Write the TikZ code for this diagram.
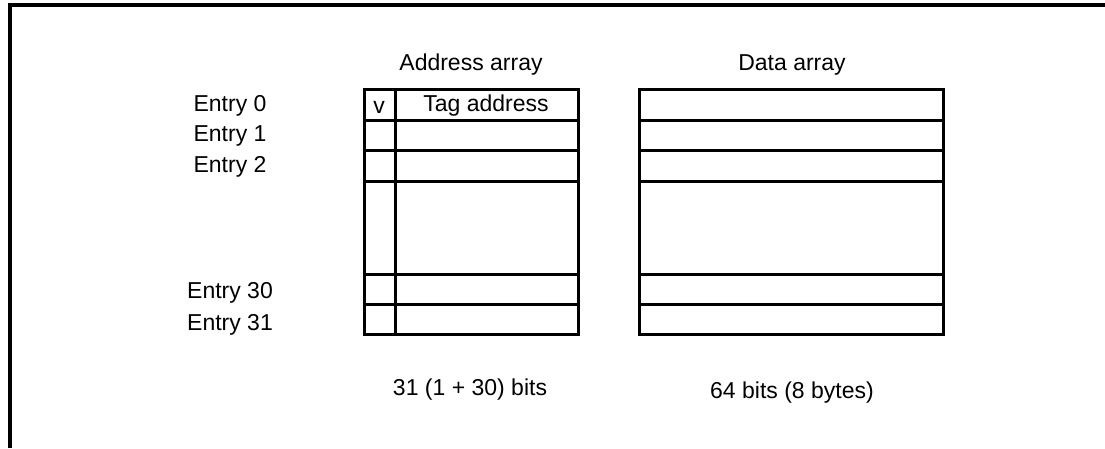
\documentclass[tikz,border=0pt]{standalone}
\usepackage{fontspec}
\setmainfont{Liberation Sans}
\begin{document}
\begin{tikzpicture}[x=1pt,y=-1pt,
  txt/.style={inner sep=0pt,font=\fontsize{23}{26}\selectfont},
  grid/.style={line width=3pt,line cap=rect},
  frame/.style={line width=3.2pt}]
\useasboundingbox (0,0) rectangle (1105,448);
% frame (cropped)
\draw[frame] (10,448) -- (10,5) -- (1105,5);
% address array
\draw[grid] (364,89) rectangle (578,334);
\draw[grid] (395,89) -- (395,334);
\foreach \y in {120,150,181,274,304}
  \draw[grid] (364,\y) -- (578,\y);
% data array
\draw[grid] (639,89) rectangle (943,334);
\foreach \y in {120,150,181,274,304}
  \draw[grid] (639,\y) -- (943,\y);
% labels
\node[txt] (addr) at (471,65) {Address array};
\node[txt] (data) at (792,65) {Data array};
\node[txt] (v) at (379,107) {v};
\node[txt] (tag) at (486,106) {Tag address};
\node[txt] (e0) at (230,106) {Entry 0};
\node[txt] (e1) at (230,136) {Entry 1};
\node[txt] (e2) at (230,167) {Entry 2};
\node[txt] (e30) at (230,293) {Entry 30};
\node[txt] (e31) at (230,325) {Entry 31};
\node[txt] (abits) at (470,390) {31 (1 + 30) bits};
\node[txt] (dbits) at (792,393) {64 bits (8 bytes)};
\end{tikzpicture}
\end{document}
